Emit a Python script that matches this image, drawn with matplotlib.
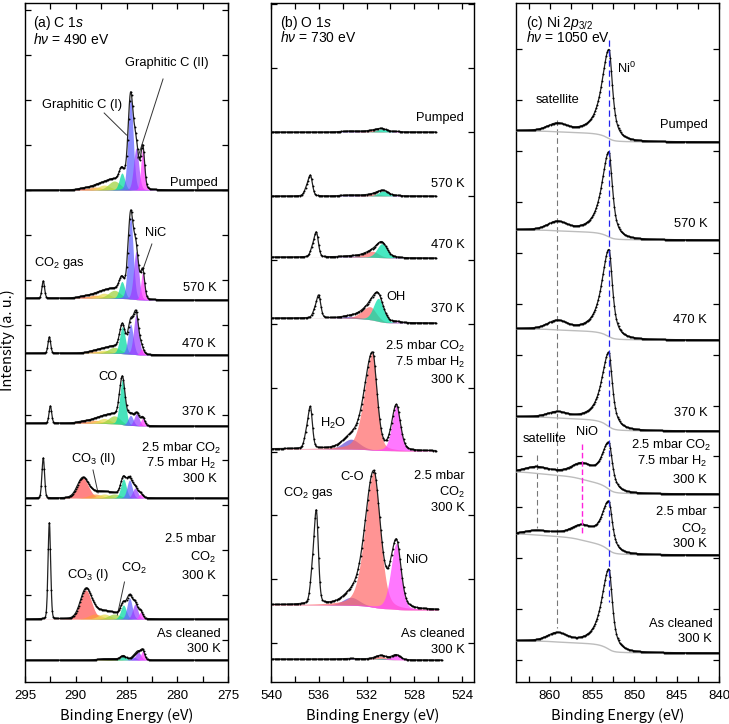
import numpy as np
import matplotlib
matplotlib.use("Agg")
import matplotlib.pyplot as plt
from matplotlib.ticker import MultipleLocator, NullFormatter

plt.rcParams['font.family'] = ['Liberation Sans', 'DejaVu Sans']
plt.rcParams['mathtext.fontset'] = 'custom'
plt.rcParams['mathtext.rm'] = 'Liberation Sans'
plt.rcParams['mathtext.it'] = 'Liberation Sans:italic'
plt.rcParams['mathtext.bf'] = 'Liberation Sans:bold'

# ---------------- data: C 1s (peak-fit components, heights in a.u.) -------------
C_SPECTRA = ['Pumped', '570 K', '470 K', '370 K', 'CO2+H2 300 K', 'CO2 300 K', 'As cleaned']
C_BASE_LEFT = [534, 426, 371, 301, 226, 105, 64]
C_BASE_RIGHT = [534, 424, 369, 298, 226, 105, 64]
C_GAS_POS = [293.0, 293.2, 292.6, 292.5, 293.2, 292.6, 293.0]
C_GAS_H = [0, 17, 16, 17, 40, 96, 0]
C_CO3_POS = [289.2, 289.2, 289.2, 289.2, 289.3, 289.0, 289.2]
C_CO3_H = [1.5, 1.5, 0, 1.5, 20, 29, 0]
C_ORANGE_H = [3, 3, 2, 3, 4, 5, 0]
C_YELLOW_H = [5, 5, 3, 5, 4, 5, 1]
C_GREEN_H = [9, 8, 6, 8, 4, 5, 1]
C_CO_POS = [285.45, 285.45, 285.4, 285.4, 285.3, 285.3, 285.3]
C_CO_H = [17, 17, 27, 45, 19, 14, 4]
C_G1_POS = [284.6, 284.6, 284.6, 284.6, 284.7, 284.7, 284.3]
C_G1_H = [92, 82, 30, 10, 18, 21, 3]
C_G2_POS = [284.05, 284.05, 284.05, 284.0, 284.15, 284.15, 283.85]
C_G2_H = [42, 48, 40, 12, 10, 15, 8]
C_NIC_POS = [283.4, 283.4, 283.5, 283.4, 283.6, 283.6, 283.4]
C_NIC_H = [42, 28, 6, 8, 4, 7, 9]

# ---------------- data: O 1s ----------------
O_BASE_LEFT = [592, 528, 467, 406, 275, 119, 65]
O_BASE_RIGHT = [592, 528, 466, 401, 273, 114, 64]
O_END = [526.2, 526.2, 526.2, 526.2, 526.2, 526.0, 525.7]
O_GAS_POS = [536.7, 536.7, 536.2, 536.0, 536.7, 536.2, 536.5]
O_GAS_H = [0, 20, 24, 22, 40, 90, 0]
O_GAS2_H = [0, 6, 7, 6, 12, 25, 0]
O_H2O_H = [1, 1, 1, 2, 10, 8, 0.5]
O_CO_POS = [531.4, 531.3, 531.5, 531.7, 531.5, 531.4, 530.8]
O_CO_H = [1.5, 2, 6, 13, 97, 135, 3]
O_CO_WLO = [0.6, 0.6, 0.6, 0.6, 0.45, 0.65, 0.5]
O_CO_WHI = [0.8, 0.8, 0.8, 0.8, 0.8, 0.85, 0.6]
O_OH_POS = [530.7, 530.6, 530.7, 531.0, 530.8, 530.8, 530.7]
O_OH_H = [3, 5, 14, 23, 0, 0, 1]
O_NIO_H = [0.5, 0.5, 0.5, 1, 45, 66, 5]
O_NIO_WLO = [0.4, 0.4, 0.4, 0.4, 0.4, 0.45, 0.4]
O_NIO_WHI = [0.4, 0.4, 0.4, 0.4, 0.45, 0.55, 0.45]

# ---------------- data: Ni 2p3/2 ----------------
NI_BASE_LEFT = [593, 494, 395, 307, 252, 190, 83]
NI_BASE_RIGHT = [582, 484, 384, 293, 230, 169, 71]
NI_METAL_H = [89, 85, 87, 74, 46, 48, 80]
NI_SAT_H = [7, 8, 8, 5, 2, 2, 8]
NI_OXIDE_H = [0, 0, 0, 0, 13, 12, 0]
NI_OXSAT_H = [0, 0, 0, 0, 6, 4, 0]

C_LABELS = [(276.0, 541, 'Pumped'), (276.1, 436, '570 K'), (276.2, 380, '470 K'),
            (276.2, 312, '370 K'), (275.7, 276, '2.5 mbar CO$_2$'), (276.1, 261, '7.5 mbar H$_2$'),
            (276.1, 245, '300 K'), (276.2, 185, '2.5 mbar'), (276.2, 167, 'CO$_2$'),
            (276.2, 148, '300 K'), (275.7, 90, 'As cleaned'), (275.7, 75, '300 K')]
O_LABELS = [(523.9, 606, 'Pumped'), (523.8, 540, '570 K'), (523.8, 479, '470 K'),
            (523.8, 415, '370 K'), (523.75, 378, '2.5 mbar CO$_2$'), (523.75, 362, '7.5 mbar H$_2$'),
            (523.75, 344, '300 K'), (523.8, 248, '2.5 mbar'), (523.75, 232, 'CO$_2$'),
            (523.75, 216, '300 K'), (523.8, 90, 'As cleaned'), (523.75, 74, '300 K')]
NI_LABELS = [(841.3, 599, 'Pumped'), (841.4, 500, '570 K'), (841.4, 404, '470 K'),
             (841.4, 311, '370 K'), (840.9, 279, '2.5 mbar CO$_2$'), (841.4, 263, '7.5 mbar H$_2$'),
             (841.4, 244, '300 K'), (841.4, 212, '2.5 mbar'), (841.4, 195, 'CO$_2$'),
             (841.4, 180, '300 K'), (840.8, 100, 'As cleaned'), (840.8, 85, '300 K')]


def pv(E, c, h, wl, wh, eta):
    w = np.where(E < c, wl, wh)
    x = ((E - c) / w) ** 2
    return h * ((1 - eta) * np.exp(-np.log(2) * x) + eta / (1 + x))


def shirley(E, s, bl, br):
    cum = np.cumsum(s)
    tot = cum[-1] if cum[-1] > 0 else 1.0
    return br + (bl - br) * cum / tot


def draw(ax, E, comps, gas, bl, br, dstep=5, fill=True, bgline=False):
    s = sum(c[0] for c in comps) if comps else np.zeros_like(E)
    bg = shirley(E, s, bl, br)
    if fill:
        for y, col in comps:
            if col is not None and y.max() > 0.3:
                ax.fill_between(E, bg, bg + y, color=col, alpha=0.72, lw=0)
    total = bg + s + gas
    if bgline:
        ax.plot(E, bg, color='#bdbdbd', lw=1.0, zorder=3)
    ax.plot(E, total, color='#222222', lw=0.9, zorder=4)
    ax.plot(E[::dstep], total[::dstep], 'o', color='black', ms=1.4, mew=0, zorder=5)


fig = plt.figure(figsize=(7.29, 7.24), dpi=100)
W, H = 729, 724
axes = []
for left in (25, 271, 516):
    ax = fig.add_axes([left / W, (H - 682) / H, 203 / W, 679 / H])
    axes.append(ax)
axa, axb, axc = axes

# ---------------- panel (a) ----------------
E = np.arange(275, 295.0001, 0.02)
C_COLS = ['#ff5555', '#ff9a3c', '#e8dc50', '#9fd23c', '#00d9a3', '#6060ff', '#9b3dff', '#ff3dff']
for i in range(7):
    comps = [
        (pv(E, C_CO3_POS[i], C_CO3_H[i], 0.65, 0.65, 0.15), C_COLS[0]),
        (pv(E, 288.1, C_ORANGE_H[i], 0.75, 0.75, 0.1), C_COLS[1]),
        (pv(E, 287.2, C_YELLOW_H[i], 0.7, 0.7, 0.1), C_COLS[2]),
        (pv(E, 286.2, C_GREEN_H[i], 0.7, 0.7, 0.1), C_COLS[3]),
        (pv(E, C_CO_POS[i], C_CO_H[i], 0.32, 0.32, 0.15), C_COLS[4]),
        (pv(E, C_G1_POS[i], C_G1_H[i], 0.3, 0.3, 0.15), C_COLS[5]),
        (pv(E, C_G2_POS[i], C_G2_H[i], 0.3, 0.3, 0.15), C_COLS[6]),
        (pv(E, C_NIC_POS[i], C_NIC_H[i], 0.22, 0.22, 0.1), C_COLS[7]),
    ]
    gas = pv(E, C_GAS_POS[i], C_GAS_H[i], 0.15, 0.15, 0.1)
    draw(axa, E, comps, gas, C_BASE_LEFT[i], C_BASE_RIGHT[i])

# ---------------- panel (b) ----------------
O_COLS = ['#6a4fd6', '#ff6b6b', '#00e0aa', '#ff44ff']
for i in range(7):
    E = np.arange(O_END[i], 540.0001, 0.02)
    comps = [
        (pv(E, 533.3, O_H2O_H[i], 0.8, 0.8, 0.2), O_COLS[0]),
        (pv(E, O_CO_POS[i], O_CO_H[i], O_CO_WLO[i], O_CO_WHI[i], 0.3), O_COLS[1]),
        (pv(E, O_OH_POS[i], O_OH_H[i], 0.5, 0.5, 0.2), O_COLS[2]),
        (pv(E, 529.5, O_NIO_H[i], O_NIO_WLO[i], O_NIO_WHI[i], 0.3), O_COLS[3]),
    ]
    gas = pv(E, O_GAS_POS[i], O_GAS_H[i], 0.2, 0.22, 0.2) + \
        pv(E, O_GAS_POS[i] + 0.35, O_GAS2_H[i], 0.2, 0.2, 0.2)
    draw(axb, E, comps, gas, O_BASE_LEFT[i], O_BASE_RIGHT[i])

# ---------------- panel (c) ----------------
E = np.arange(840, 864.0001, 0.02)
for i in range(7):
    comps = [
        (pv(E, 853.0, NI_METAL_H[i], 0.5, 1.0, 0.85), None),
        (pv(E, 859.1, NI_SAT_H[i], 1.3, 1.3, 0.2), None),
        (pv(E, 856.2, NI_OXIDE_H[i], 1.5, 1.5, 0.2), None),
        (pv(E, 861.5, NI_OXSAT_H[i], 1.6, 1.6, 0.2), None),
    ]
    draw(axc, E, comps, np.zeros_like(E), NI_BASE_LEFT[i], NI_BASE_RIGHT[i],
         dstep=6, fill=False, bgline=True)

axc.plot([859.1, 859.1], [604, 96], ls=(0, (5, 3)), color='#777777', lw=0.8, zorder=2)
axc.plot([861.5, 861.5], [269, 196], ls=(0, (5, 3)), color='#777777', lw=0.8, zorder=2)
axc.plot([853.0, 853.0], [684, 122], ls=(0, (5, 3)), color='#2222ee', lw=0.9, zorder=6)
axc.plot([856.2, 856.2], [280, 191], ls=(0, (4, 2)), color='#ff22dd', lw=1.0, zorder=6)

# ---------------- axes formatting ----------------
cfg = [(axa, (295, 275), 5, 2.5, 45.0, 39.0),
       (axb, (540, 523), 4, 2, 63.9, 16.9),
       (axc, (864, 840), 5, 2.5, 50.9, 13.1)]
for ax, xl, maj, mnr, ysp, yoff in cfg:
    ax.set_xlim(*xl)
    ax.set_ylim(42, 721)
    ax.xaxis.set_major_locator(MultipleLocator(maj))
    ax.xaxis.set_minor_locator(MultipleLocator(mnr))
    ax.yaxis.set_major_locator(MultipleLocator(ysp, offset=yoff))
    ax.yaxis.set_major_formatter(NullFormatter())
    ax.tick_params(which='both', direction='in', top=True, right=True, length=4.5, width=0.9)
    ax.tick_params(axis='x', labelsize=9.5, pad=6)
    for sp in ax.spines.values():
        sp.set_linewidth(1.0)
    ax.set_xlabel('Binding Energy (eV)', fontsize=10.5, labelpad=4,
                  family=['Noto Sans CJK JP', 'DejaVu Sans'])
axb.set_xticks([540, 536, 532, 528, 524])
axc.set_xticks([860, 855, 850, 845, 840])

fig.text(8 / W, 1 - 340 / H, 'Intensity (a. u.)', rotation=90, va='center', ha='center',
         fontsize=10.5, family=['Noto Sans CJK JP', 'DejaVu Sans'])

FS = 9.3
for ax, labs in ((axa, C_LABELS), (axb, O_LABELS), (axc, NI_LABELS)):
    for x, y, t in labs:
        ax.text(x, y, t, ha='right', va='center', fontsize=FS, zorder=7)

# panel titles
axa.text(294.2, 701, '(a) C 1$s$', fontsize=10, va='center')
axa.text(294.2, 684, r'$h\nu$ = 490 eV', fontsize=10, va='center')
axb.text(539.25, 701, '(b) O 1$s$', fontsize=10, va='center')
axb.text(539.25, 686, r'$h\nu$ = 730 eV', fontsize=10, va='center')
axc.text(862.8, 701, '(c) Ni 2$p_{3/2}$', fontsize=10, va='center')
axc.text(862.8, 686, r'$h\nu$ = 1050 eV', fontsize=10, va='center')

# annotations (a)
axa.text(281.0, 661, 'Graphitic C (II)', fontsize=FS, ha='center', va='center')
axa.plot([281.4, 283.9], [645, 566], color='#333333', lw=0.7)
axa.text(289.4, 619, 'Graphitic C (I)', fontsize=FS, ha='center', va='center')
axa.plot([287.2, 285.0], [611, 589], color='#333333', lw=0.7)
axa.text(282.1, 491, 'NiC', fontsize=FS, ha='center', va='center')
axa.plot([282.5, 283.4], [480, 454], color='#333333', lw=0.7)
axa.text(291.6, 461, 'CO$_2$ gas', fontsize=FS, ha='center', va='center')
axa.text(286.8, 347, 'CO', fontsize=FS, ha='center', va='center')
axa.text(288.2, 265, 'CO$_3$ (II)', fontsize=FS, ha='center', va='center')
axa.plot([288.3, 287.8], [254, 231], color='#333333', lw=0.7)
axa.text(288.8, 149, 'CO$_3$ (I)', fontsize=FS, ha='center', va='center')
axa.text(284.3, 156, 'CO$_2$', fontsize=FS, ha='center', va='center')
axa.plot([285.2, 285.9], [142, 109], color='#333333', lw=0.7)

# annotations (b)
axb.text(529.5, 427, 'OH', fontsize=FS, ha='center', va='center')
axb.text(534.8, 301, 'H$_2$O', fontsize=FS, ha='center', va='center')
axb.text(533.2, 247, 'C-O', fontsize=FS, ha='center', va='center')
axb.text(536.9, 231, 'CO$_2$ gas', fontsize=FS, ha='center', va='center')
axb.text(527.8, 164, 'NiO', fontsize=FS, ha='center', va='center')

# annotations (c)
axc.text(859.1, 624, 'satellite', fontsize=FS, ha='center', va='center')
axc.text(850.9, 656, 'Ni$^0$', fontsize=FS, ha='center', va='center')
axc.text(860.6, 285, 'satellite', fontsize=FS, ha='center', va='center')
axc.text(855.6, 292, 'NiO', fontsize=FS, ha='center', va='center')

fig.savefig('out.png', dpi=100)
